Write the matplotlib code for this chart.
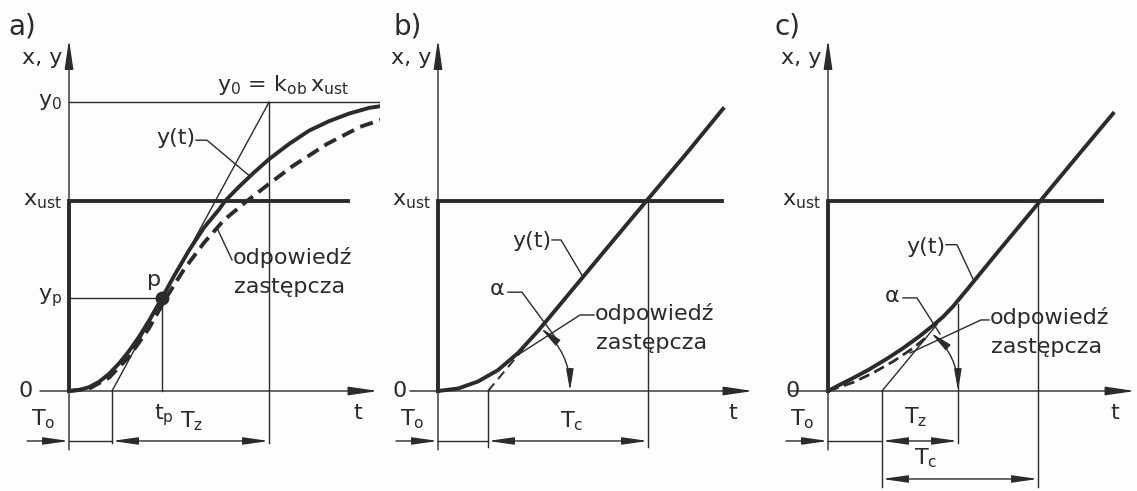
import numpy as np
import matplotlib.pyplot as plt

plt.rcParams['font.family'] = ['DejaVu Sans']
plt.rcParams['mathtext.default'] = 'regular'

INK = '#2b2b2b'
THICK = 2.8
THIN = 1.0
FS = 16

# wartość zadana i poziomy
x_ust = 1.0

# a) obiekt statyczny z inercją
a_t = [0, 0.1, 0.2, 0.3, 0.4, 0.5, 0.6, 0.7, 0.8, 0.93, 1.05, 1.2, 1.35, 1.5,
       1.56, 1.7, 1.85, 2.0, 2.2, 2.4, 2.6, 2.8, 3.0, 3.19]
a_y = [0, 0.005, 0.02, 0.048, 0.09, 0.145, 0.21, 0.285, 0.37, 0.49, 0.605, 0.74,
       0.86, 0.955, 1.0, 1.075, 1.15, 1.22, 1.30, 1.37, 1.42, 1.46, 1.49, 1.505]
a_zast_t = [0, 0.2, 0.4, 0.6, 0.8, 0.97, 1.15, 1.35, 1.55, 1.78, 2.0, 2.24,
            2.58, 2.91, 3.19]
a_zast_y = [0, 0.012, 0.07, 0.18, 0.33, 0.49, 0.64, 0.78, 0.90, 1.0, 1.09,
            1.185, 1.30, 1.39, 1.44]
a_y0 = 1.52
a_tp, a_yp = 0.93, 0.49
a_styczna_t = [0.43, 2.0]
a_styczna_y = [0, a_y0]
a_xust_end = 2.79

# b) obiekt astatyczny
b_t = [0, 0.2, 0.4, 0.6, 0.8, 1.0, 1.2, 1.5, 1.8, 2.1, 2.5, 2.85]
b_y = [0, 0.013, 0.05, 0.11, 0.20, 0.316, 0.442, 0.632, 0.822, 1.01, 1.26, 1.485]
b_zast_t = [0.50, 0.85]
b_zast_y = [0, 0.22]
b_tc = 2.10
b_xust_end = 2.84

# c) obiekt astatyczny z inercją
c_t = [0, 0.1, 0.25, 0.4, 0.59, 0.75, 0.92, 1.05, 1.15, 1.25, 1.4, 1.7, 2.1,
       2.5, 2.85]
c_y = [0, 0.028, 0.068, 0.11, 0.17, 0.225, 0.29, 0.345, 0.39, 0.445, 0.54,
       0.733, 0.986, 1.24, 1.46]
c_zast_t = [0, 0.25, 0.45, 0.65, 0.85, 1.0]
c_zast_y = [0, 0.045, 0.095, 0.155, 0.225, 0.29]
c_styczna_t = [0.54, 1.09]
c_styczna_y = [0, 0.35]
c_tz = 1.30
c_tc = 2.10
c_xust_end = 2.74

W, H = 1137, 491
fig = plt.figure(figsize=(W / 100, H / 100), dpi=100)
fig.patch.set_facecolor('#fdfdfd')

Y_AX_BOT, Y_AX_TOP = -0.31, 1.85
DIM_Y = -0.263


def make_axes(left_px, right_px, origin_px):
    ax = fig.add_axes([left_px / W, 0, (right_px - left_px) / W, 1])
    ax.set_xlim((left_px - origin_px) / 100, (right_px - origin_px) / 100)
    ax.set_ylim((391 - H) / 190, 391 / 190)
    ax.axis('off')
    return ax


def arrow(ax, p_from, p_to, style='-|>', hl=1.2, hw=0.22, ms=12, lw=THIN, conn=None):
    props = dict(arrowstyle=f'{style},head_length={hl},head_width={hw}',
                 color=INK, lw=lw, shrinkA=0, shrinkB=0, mutation_scale=ms)
    if conn:
        props['connectionstyle'] = conn
    ax.annotate('', xy=p_to, xytext=p_from, arrowprops=props)


def frame(ax, x_left, x_right, xust_end, letter, letter_x):
    # osie
    arrow(ax, (0, Y_AX_BOT), (0, Y_AX_TOP), hl=1.5, hw=0.22)
    arrow(ax, (x_left, 0), (x_right, 0), hl=1.5, hw=0.22)
    # skok wartości zadanej
    ax.plot([0, 0, xust_end], [0, x_ust, x_ust], color=INK, lw=THICK,
            solid_joinstyle='miter')
    ax.text(letter_x, 1.92, letter, fontsize=20, color=INK, ha='left', va='center')
    ax.text(-0.07, 1.75, 'x, y', fontsize=FS, color=INK, ha='right', va='center')
    ax.text(-0.07, x_ust, '$x_{ust}$', fontsize=FS, color=INK, ha='right', va='center')
    ax.text(x_right - 0.2, -0.115, 't', fontsize=FS, color=INK, ha='center', va='center')
    # opóźnienie T_o
    arrow(ax, (-0.42, DIM_Y), (0, DIM_Y), hl=1.4, hw=0.2, ms=11)
    ax.text(-0.38, -0.15, '$T_o$', fontsize=FS, color=INK, ha='left', va='center')


def leader(ax, xs, ys):
    ax.plot(xs, ys, color=INK, lw=THIN)


# ---------------- a) ----------------
ax = make_axes(0, 380, 69)
frame(ax, -0.29, 3.09, a_xust_end, 'a)', -0.61)
ax.text(-0.36, 0, '0', fontsize=FS, color=INK, ha='right', va='center')
ax.plot([0, 3.2], [a_y0, a_y0], color=INK, lw=THIN)
ax.text(-0.07, a_y0, '$y_0$', fontsize=FS, color=INK, ha='right', va='center')
ax.text(1.48, 1.61, '$y_0$ = $k_{ob}\\,x_{ust}$', fontsize=FS, color=INK,
        ha='left', va='center')
ax.plot(a_styczna_t, a_styczna_y, color=INK, lw=THIN)
ax.plot([a_styczna_t[1]] * 2, [a_y0, -0.275], color=INK, lw=THIN)
ax.plot([a_styczna_t[0]] * 2, [0, -0.275], color=INK, lw=THIN)
ax.plot([0, a_tp, a_tp], [a_yp, a_yp, 0], color=INK, lw=THIN)
ax.text(-0.07, a_yp, '$y_p$', fontsize=FS, color=INK, ha='right', va='center')
ax.plot(a_t, a_y, color=INK, lw=THICK)
ax.plot(a_zast_t, a_zast_y, color=INK, lw=THICK, dashes=(3.4, 1.8))
ax.plot([a_tp], [a_yp], 'o', color=INK, ms=9)
ax.text(0.85, 0.585, 'p', fontsize=FS, color=INK, ha='center', va='center')
ax.text(1.26, 1.33, 'y(t)', fontsize=FS, color=INK, ha='right', va='center')
leader(ax, [1.27, 1.38, 1.81], [1.32, 1.32, float(np.interp(1.81, a_t, a_y))])
ax.text(1.64, 0.70, 'odpowiedź', fontsize=FS, color=INK, ha='left', va='center')
ax.text(1.65, 0.545, 'zastępcza', fontsize=FS, color=INK, ha='left', va='center')
leader(ax, [1.48, 1.63], [float(np.interp(1.48, a_zast_t, a_zast_y)), 0.69])
ax.plot([0, a_styczna_t[0]], [DIM_Y, DIM_Y], color=INK, lw=THIN)
arrow(ax, (a_styczna_t[0], DIM_Y), (a_styczna_t[1], DIM_Y), style='<|-|>', hl=1.4, hw=0.2, ms=11)
ax.text(a_tp + 0.02, -0.125, '$t_p$', fontsize=FS, color=INK, ha='center', va='center')
ax.text(1.11, -0.16, '$T_z$', fontsize=FS, color=INK, ha='left', va='center')

# ---------------- b) ----------------
ax = make_axes(380, 757, 438)
frame(ax, -0.28, 3.15, b_xust_end, 'b)', -0.45)
ax.text(-0.31, 0, '0', fontsize=FS, color=INK, ha='right', va='center')
ax.plot(b_t, b_y, color=INK, lw=THICK)
ax.plot(b_zast_t, b_zast_y, color=INK, lw=1.4, dashes=(5, 3))
ax.plot([b_zast_t[0]] * 2, [0, -0.295], color=INK, lw=THIN)
ax.plot([b_tc] * 2, [x_ust, -0.295], color=INK, lw=THIN)
arrow(ax, (1.027, 0.331), (1.32, 0), style='<|-|>', hl=1.3, hw=0.22, ms=10,
      conn='arc3,rad=-0.23')
ax.text(1.13, 0.79, 'y(t)', fontsize=FS, color=INK, ha='right', va='center')
leader(ax, [1.14, 1.23, 1.45], [0.795, 0.795, float(np.interp(1.45, b_t, b_y))])
ax.text(0.52, 0.535, 'α', fontsize=FS, color=INK, ha='left', va='center')
leader(ax, [0.70, 0.84, 1.19], [0.52, 0.52, 0.27])
ax.text(1.57, 0.41, 'odpowiedź', fontsize=FS, color=INK, ha='left', va='center')
ax.text(1.58, 0.255, 'zastępcza', fontsize=FS, color=INK, ha='left', va='center')
leader(ax, [1.56, 1.42, 0.80], [0.40, 0.40, 0.19])
ax.plot([0, b_zast_t[0]], [DIM_Y, DIM_Y], color=INK, lw=THIN)
arrow(ax, (b_zast_t[0], DIM_Y), (b_tc, DIM_Y), style='<|-|>', hl=1.4, hw=0.2, ms=11)
ax.text(1.22, -0.16, '$T_c$', fontsize=FS, color=INK, ha='left', va='center')

# ---------------- c) ----------------
ax = make_axes(757, 1137, 828)
frame(ax, -0.38, 3.07, c_xust_end, 'c)', -0.53)
ax.text(-0.28, 0, '0', fontsize=FS, color=INK, ha='right', va='center')
ax.plot(c_styczna_t, c_styczna_y, color=INK, lw=THIN)
ax.plot(c_t, c_y, color=INK, lw=THICK)
ax.plot(c_zast_t, c_zast_y, color=INK, lw=2.0, dashes=(4, 2))
ax.plot([c_styczna_t[0]] * 2, [0, -0.505], color=INK, lw=THIN)
ax.plot([c_tz] * 2, [0.46, -0.275], color=INK, lw=THIN)
ax.plot([c_tc] * 2, [x_ust, -0.505], color=INK, lw=THIN)
arrow(ax, (1.029, 0.306), (1.30, 0), style='<|-|>', hl=1.3, hw=0.22, ms=10,
      conn='arc3,rad=-0.23')
ax.text(1.17, 0.76, 'y(t)', fontsize=FS, color=INK, ha='right', va='center')
leader(ax, [1.18, 1.29, 1.46], [0.77, 0.77, float(np.interp(1.46, c_t, c_y))])
ax.text(0.57, 0.50, 'α', fontsize=FS, color=INK, ha='left', va='center')
leader(ax, [0.75, 0.89, 1.12], [0.49, 0.49, 0.30])
ax.text(1.62, 0.385, 'odpowiedź', fontsize=FS, color=INK, ha='left', va='center')
ax.text(1.63, 0.23, 'zastępcza', fontsize=FS, color=INK, ha='left', va='center')
leader(ax, [1.61, 1.53, 0.82], [0.374, 0.374, 0.20])
ax.plot([0, c_styczna_t[0]], [DIM_Y, DIM_Y], color=INK, lw=THIN)
arrow(ax, (c_styczna_t[0], DIM_Y), (c_tz, DIM_Y), style='<|-|>', hl=1.4, hw=0.2, ms=11)
arrow(ax, (c_styczna_t[0], -0.463), (c_tc, -0.463), style='<|-|>', hl=1.4, hw=0.2, ms=11)
ax.text(0.76, -0.14, '$T_z$', fontsize=FS, color=INK, ha='left', va='center')
ax.text(0.86, -0.355, '$T_c$', fontsize=FS, color=INK, ha='left', va='center')

fig.savefig('out.png', dpi=100, facecolor=fig.get_facecolor())
